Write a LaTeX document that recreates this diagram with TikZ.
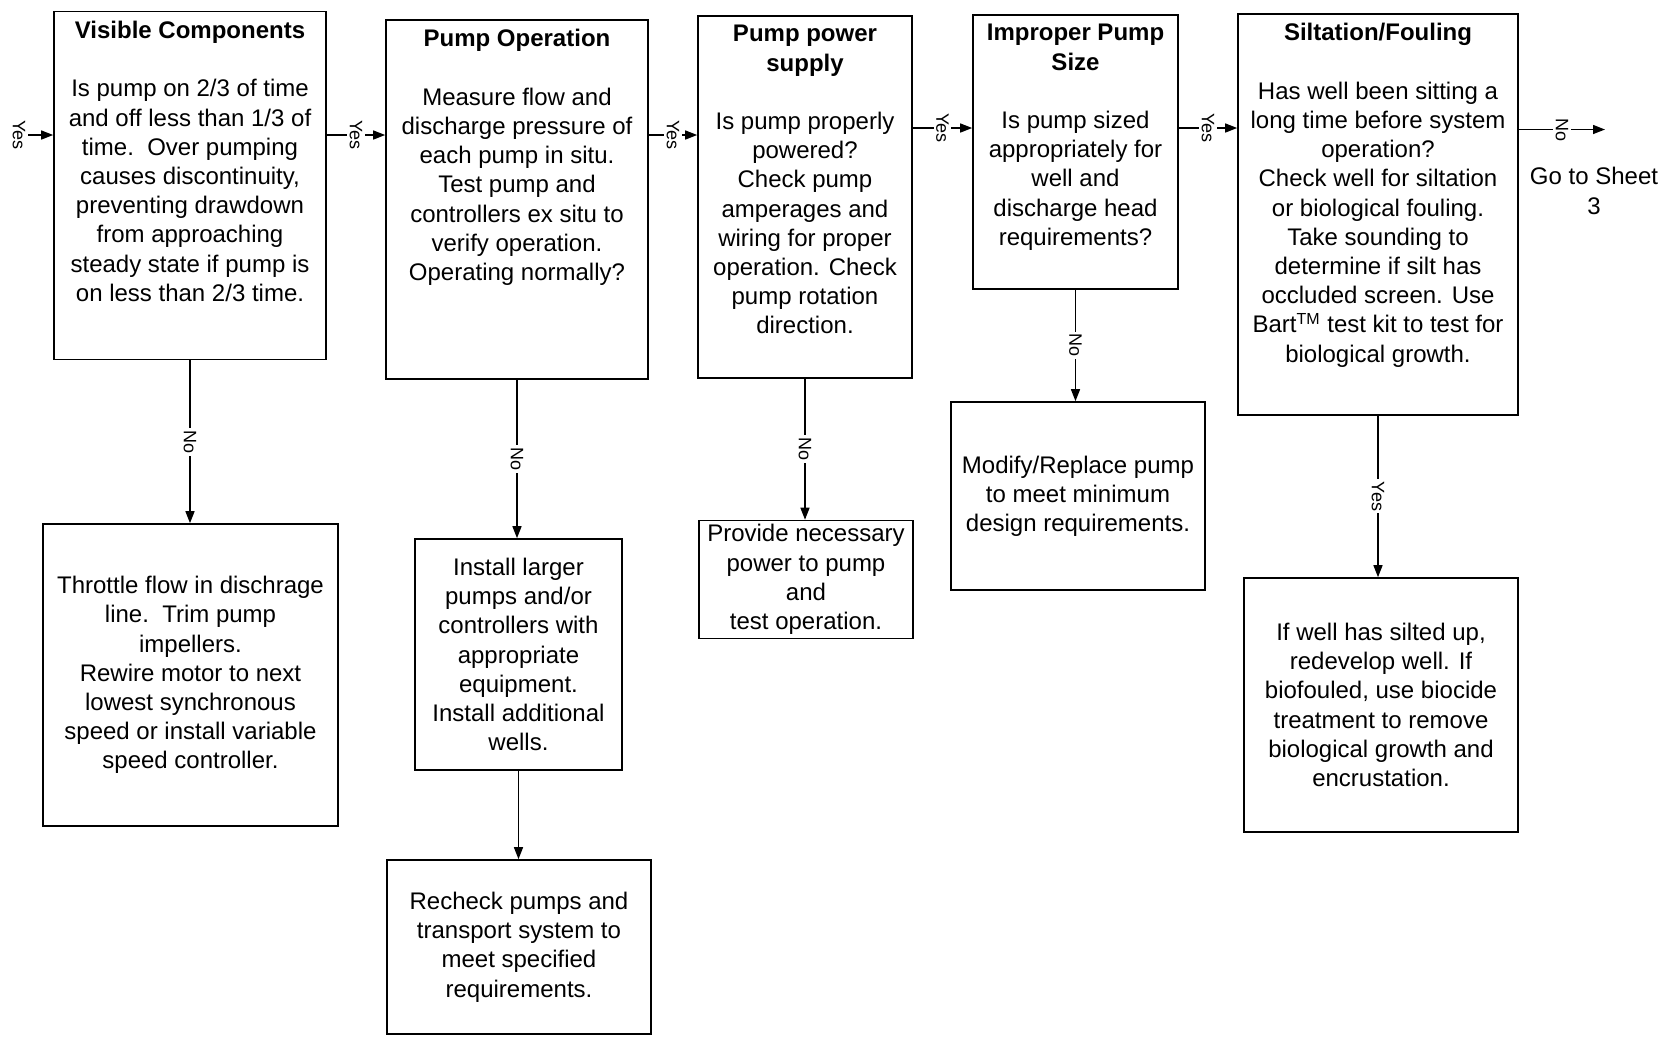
\documentclass[tikz,border=0pt]{standalone}
\usepackage{fontspec}
\setmainfont{Liberation Sans}
\usetikzlibrary{arrows.meta}
\tikzset{
  box/.style={draw, line width=0.8pt, rectangle, inner sep=2pt, align=center, font=\fontsize{12}{14.6}\selectfont},
  boxtext/.style={inner sep=0pt, align=center, font=\fontsize{12}{14.6}\selectfont},
  lbl/.style={fill=white, inner sep=1.2pt, rotate=-90, font=\fontsize{9}{10}\selectfont},
  arr/.style={line width=0.7pt, -{Triangle[length=6pt,width=4.5pt]}}
}
\newcommand{\topbox}[6]{
\node[box, minimum width=#4*0.5pt, minimum height=#5*0.5pt, anchor=north] (#1) at (#2,#3) {};
\node[boxtext, anchor=north] (#1t) at ([yshift=-5pt]#1.north) {#6};
}
\newcommand{\actbox}[6]{
\node[box, minimum width=#4*0.5pt, minimum height=#5*0.5pt] (#1) at (#2,#3) {#6};
}

\begin{document}
\begin{tikzpicture}[x=0.5pt,y=-0.5pt]
\useasboundingbox (0,0) rectangle (1678,1041);
\topbox{vis}{190}{10.7}{272}{348}{\textbf{Visible Components}\\[14.6pt]Is pump on 2/3 of time\\and off less than 1/3 of\\time.\ \ Over pumping\\causes discontinuity,\\preventing drawdown\\from approaching\\steady state if pump is\\on less than 2/3 time.}
\topbox{op}{517}{19}{262}{359}{\textbf{Pump Operation}\\[14.6pt]Measure flow and\\discharge pressure of\\each pump in situ.\\Test pump and\\controllers ex situ to\\verify operation.\\Operating normally?}
\topbox{pow}{805}{15}{214}{362}{\textbf{Pump power}\\\textbf{supply}\\[14.6pt]Is pump properly\\powered?\\Check pump\\amperages and\\wiring for proper\\operation. Check\\pump rotation\\direction.}
\topbox{size}{1075.5}{14}{205}{274}{\textbf{Improper Pump}\\\textbf{Size}\\[14.6pt]Is pump sized\\appropriately for\\well and\\discharge head\\requirements?}
\topbox{silt}{1378}{13}{280}{401}{\textbf{Siltation/Fouling}\\[14.6pt]Has well been sitting a\\long time before system\\operation?\\Check well for siltation\\or biological fouling.\\Take sounding to\\determine if silt has\\occluded screen. Use\\Bart\textsuperscript{TM} test kit to test for\\biological growth.}
\actbox{throttle}{190.5}{675}{295}{302}{Throttle flow in dischrage\\line.\ \ Trim pump\\impellers.\\Rewire motor to next\\lowest synchronous\\speed or install variable\\speed controller.}
\actbox{larger}{518.5}{654.5}{207}{231}{Install larger\\pumps and/or\\controllers with\\appropriate\\equipment.\\Install additional\\wells.}
\actbox{recheck}{519}{947}{264}{174}{Recheck pumps and\\transport system to\\meet specified\\requirements.}
\actbox{power}{806}{579.5}{214}{117}{Provide necessary\\power to pump\\and\\test operation.}
\actbox{modify}{1078}{496}{254}{188}{Modify/Replace pump\\to meet minimum\\design requirements.}
\actbox{silted}{1381}{705}{274}{254}{If well has silted up,\\redevelop well. If\\biofouled, use biocide\\treatment to remove\\biological growth and\\encrustation.}
\node[boxtext] (sheet) at (1594,191) {Go to Sheet\\3};
\coordinate (ya) at (0,135);
\coordinate (yb) at (0,128);
\coordinate (in) at (19,135);
\coordinate (out) at (1605,129.5);
\draw[arr] (in) node[lbl]{Yes} -- (vis.west |- ya);
\draw[arr] (vis.east |- ya) -- node[lbl]{Yes} (op.west |- ya);
\draw[arr] (op.east |- ya) -- node[lbl]{Yes} (pow.west |- ya);
\draw[arr] (pow.east |- yb) -- node[lbl]{Yes} (size.west |- yb);
\draw[arr] (size.east |- yb) -- node[lbl]{Yes} (silt.west |- yb);
\draw[arr] (silt.east |- out) -- node[lbl]{No} (out);
\draw[arr] (vis.south) -- node[lbl]{No} (vis.south |- throttle.north);
\draw[arr] (op.south) -- node[lbl]{No} (op.south |- larger.north);
\draw[arr] (larger.south) -- (larger.south |- recheck.north);
\draw[arr] (pow.south) -- node[lbl]{No} (pow.south |- power.north);
\draw[arr] (size.south) -- node[lbl]{No} (size.south |- modify.north);
\draw[arr] (silt.south) -- node[lbl]{Yes} (silt.south |- silted.north);
\end{tikzpicture}
\end{document}
